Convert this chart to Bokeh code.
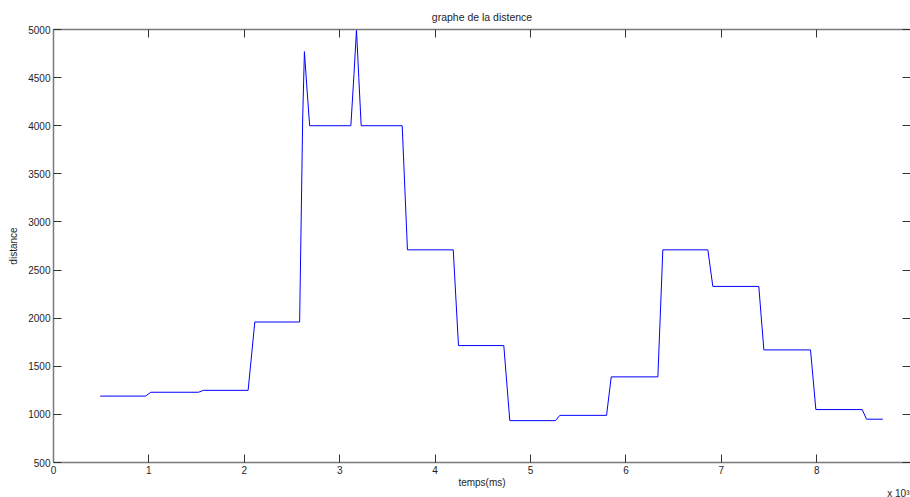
from bokeh.plotting import figure
from bokeh.models import ColumnDataSource, LinearAxis, Range1d, FixedTicker, Title
from bokeh.embed import file_html
from bokeh.resources import INLINE

# Measured distance over time (time in ms)
temps_ms = [490, 965, 1020, 1520, 1570, 2040, 2110, 2580, 2612, 2630, 2660, 2685,
            3117, 3150, 3176, 3200, 3225, 3655, 3710, 4190, 4245, 4720, 4783,
            5262, 5307, 5797, 5846, 6335, 6387, 6859, 6911, 7393, 7446, 7935,
            7991, 8477, 8522, 8693]
distance = [1190, 1190, 1230, 1230, 1250, 1250, 1960, 1960, 4080, 4770, 4340, 4000,
            4000, 4540, 5000, 4500, 4000, 4000, 2710, 2710, 1715, 1715, 935,
            935, 990, 990, 1390, 1390, 2710, 2710, 2330, 2330, 1670, 1670,
            1050, 1050, 950, 950]

x_ticks = list(range(0, 10000, 1000))
x_tick_labels = {t: str(t // 1000) for t in x_ticks}
y_ticks = list(range(500, 5001, 500))

FONT = "Liberation Sans"
TEXT = "#1e1e1e"
AXIS = "#7a7a7a"

src = ColumnDataSource(dict(t=temps_ms, d=distance))

p = figure(width=910, height=497, output_backend="svg", toolbar_location=None,
           x_range=Range1d(0, 8983), y_range=Range1d(500, 5000),
           min_border_left=53, min_border_right=0, min_border_top=29,
           min_border_bottom=34, title="graphe de la distence")
p.grid.visible = False
p.outline_line_color = None
p.background_fill_color = "white"
p.border_fill_color = "white"

p.title.align = "center"
p.title.text_font = FONT
p.title.text_font_size = "10.5px"
p.title.text_font_style = "normal"
p.title.text_color = TEXT
p.title.standoff = 14


def style_axis(ax, ticks, show_labels=True):
    ax.ticker = FixedTicker(ticks=ticks)
    ax.major_tick_in = 8
    ax.major_tick_out = 0
    ax.minor_tick_line_color = None
    ax.axis_line_color = AXIS
    ax.axis_line_width = 1.5
    ax.major_tick_line_color = "#333333"
    ax.major_label_text_font = FONT
    ax.major_label_text_font_size = "10px"
    ax.major_label_text_color = TEXT
    ax.major_label_standoff = 3 if show_labels else 0
    if not show_labels:
        ax.major_label_overrides = {t: "" for t in ticks}
    ax.axis_label_text_font = FONT
    ax.axis_label_text_font_size = "10px"
    ax.axis_label_text_font_style = "normal"
    ax.axis_label_text_color = TEXT


style_axis(p.xaxis[0], x_ticks)
p.xaxis[0].major_label_overrides = x_tick_labels
p.xaxis[0].axis_label = "temps(ms)"
p.xaxis[0].major_label_standoff = 3
p.xaxis[0].axis_label_standoff = 0

style_axis(p.yaxis[0], y_ticks)
p.yaxis[0].axis_label = "distance"
p.yaxis[0].axis_label_standoff = 6

top = LinearAxis()
style_axis(top, x_ticks, show_labels=False)
p.add_layout(top, "above")

right = LinearAxis()
style_axis(right, y_ticks, show_labels=False)
right.axis_line_color = None
p.add_layout(right, "right")

p.line("t", "d", source=src, line_color="#0000ff", line_width=1)

# Axis multiplier note under the right end of the time axis
p.add_layout(Title(text="x 10³", align="right", vertical_align="top",
                   text_font=FONT, text_font_size="10px",
                   text_font_style="normal", text_color=TEXT,
                   standoff=-6, offset=1), "below")

open("out.html", "w").write(file_html(p, INLINE))
